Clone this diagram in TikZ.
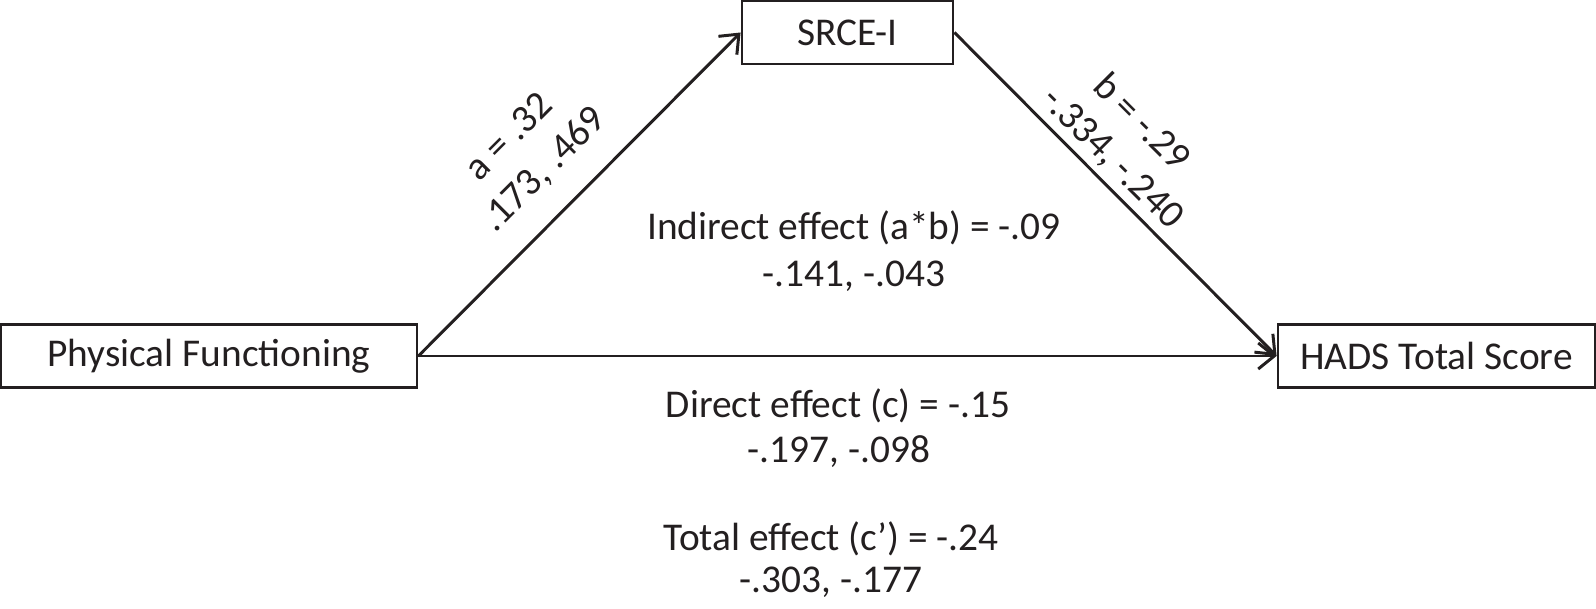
\documentclass[tikz,border=0pt]{standalone}
\usepackage{fontspec}
\setmainfont{Carlito}
\usetikzlibrary{arrows.meta,positioning}
\definecolor{medink}{HTML}{231F20}
\tikzstyle{medbox}=[draw=medink,text=medink,line width=0.8pt,minimum height=0.63cm,
  inner sep=0pt,font=\fontsize{11.2}{13.9}\selectfont]
\tikzstyle{medpath}=[-{Straight Barb[length=1.6mm,width=2.6mm]},medink,line width=0.85pt]
\tikzstyle{medlabel}=[text=medink,font=\fontsize{11.2}{13.9}\selectfont,inner sep=0pt]

\begin{document}
\begin{tikzpicture}
    \useasboundingbox (0,0) rectangle (15.96,6.09);
    \node[medbox,minimum width=4.16cm] (physfunc) at (2.09,2.53) {Physical Functioning};
    \node[medbox,minimum width=2.11cm] (srce) at (8.475,5.765) {SRCE-I};
    \node[medbox,minimum width=3.17cm] (hads) at (14.365,2.53) {HADS Total Score};
    \draw[medpath] (physfunc.east) -- (srce.west);
    \draw[medpath] (srce.east) -- (hads.west);
    \draw[medpath] (physfunc.east) -- (hads.west);
    % path labels
    \node[medlabel,rotate=45] (apath) at (5.08,4.73) {a = .32};
    \node[medlabel,rotate=45] (aci) at (5.44,4.39) {.173, .469};
    \node[medlabel,rotate=-45] (bpath) at (11.43,4.88) {b = -.29};
    \node[medlabel,rotate=-45] (bci) at (11.12,4.50) {-.334, -.240};
    % effects
    \node[medlabel,anchor=base] (indirect) at (8.54,3.69) {Indirect effect (a*b) = -.09};
    \node[medlabel,anchor=base] (indirectci) at (8.54,3.22) {-.141, -.043};
    \node[medlabel,anchor=base] (direct) at (8.38,1.91) {Direct effect (c) = -.15};
    \node[medlabel,anchor=base] (directci) at (8.39,1.46) {-.197, -.098};
    \node[medlabel,anchor=base] (total) at (8.31,0.59) {Total effect (c’) = -.24};
    \node[medlabel,anchor=base] (totalci) at (8.31,0.16) {-.303, -.177};
\end{tikzpicture}
\end{document}
